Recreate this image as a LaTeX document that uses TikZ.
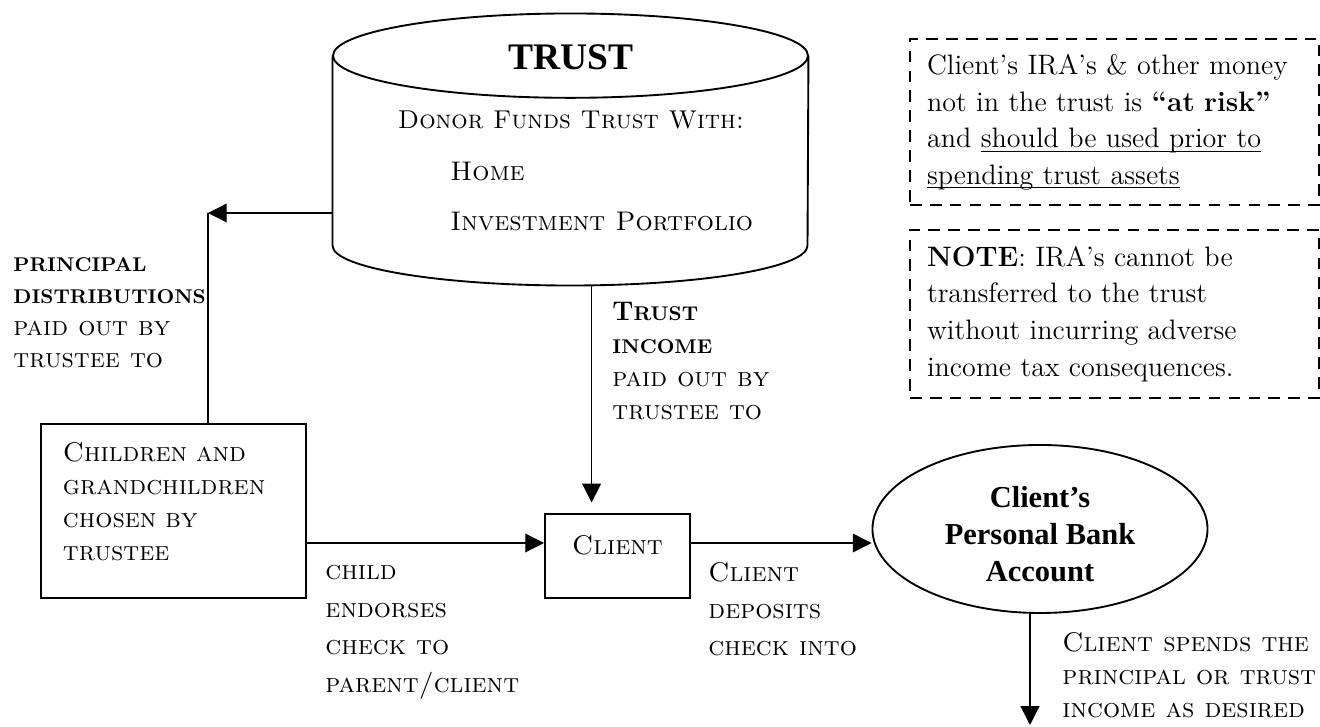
\documentclass[tikz,border=0pt]{standalone}
\usepackage{fontspec}
\usetikzlibrary{arrows.meta}
\usetikzlibrary{shapes.geometric}
\newfontfamily\timesfont{Liberation Serif}[Ligatures=TeX]
\newcommand\bcaps[1]{{\bfseries\fontsize{8.5}{10}\selectfont #1}}
\newcommand\uln[1]{\underline{\smash{#1}}}

\tikzset{
  box/.style={draw, line width=0.8pt},
  lbl/.style={anchor=north west, inner sep=0pt, align=left},
  caps/.style={font=\fontsize{11.5}{#1}\selectfont\scshape},
  flow/.style={line width=0.5pt, -{Triangle[length=8pt,width=8pt]}},
  notebox/.style={draw, line width=0.8pt, dash pattern=on 5pt off 3.5pt, anchor=north west,
    align=left, text width=160pt, inner xsep=7.3pt, minimum height=70.8pt,
    font=\fontsize{12}{15.6}\selectfont}
}

\begin{document}
\begin{tikzpicture}[x=0.015cm, y=-0.015cm]
\useasboundingbox (0,0) rectangle (1320,727);

% the trust
\node[inner sep=0pt, minimum width=202.7pt, minimum height=115.7pt] (trust) at (570.5,149.5) {};
\draw[line width=0.8pt] ([yshift=-18pt]trust.north) ellipse [x radius=101.35pt, y radius=18pt];
\draw[line width=0.8pt] ([yshift=-18pt]trust.north west) -- ([yshift=17pt]trust.south west)
  arc[start angle=180, end angle=360, x radius=101.35pt, y radius=17pt] -- ([yshift=-18pt]trust.north east);
\node[font=\timesfont\bfseries\fontsize{16}{18}\selectfont, inner sep=0pt] (title) at (571,57) {TRUST};
\node[font=\fontsize{11}{14}\selectfont\scshape, anchor=north, inner sep=0pt] (donor) at (571,110) {Donor Funds Trust With:};
\node[lbl, caps=21.3pt] (assets) at (450,162) {Home\\Investment Portfolio};

% notes on the right
\node[notebox] (risk) at (909,38) {Client's IRA's \& other money\\ not in the trust is \textbf{``at risk''}\\ and \uln{should be used prior to}\\ \uln{spending trust assets}};
\node[notebox, minimum height=71.7pt] (note) at (909,229) {\textbf{NOTE}: IRA's cannot be\\ transferred to the trust\\ without incurring adverse\\ income tax consequences.};

% boxes
\node[box, lbl, caps=14.1pt, text width=94.3pt, inner xsep=9.4pt, inner ysep=8pt, minimum height=74.3pt] (kids) at (40,423) {Children and\\ grandchildren\\ chosen by\\ trustee\rule[-7.8pt]{0pt}{7.8pt}};
\node[box, lbl, caps=14pt, minimum width=61.9pt, inner ysep=9.4pt, text depth=8.9pt] (client) at (544,513) {Client};
\node[ellipse, draw, line width=0.8pt, minimum width=143pt, minimum height=71.7pt, inner sep=0pt, align=center,
  font=\timesfont\bfseries\fontsize{13}{15.8}\selectfont] (bank) at (1040,529) {\rule{0pt}{13pt}Client's\\ Personal Bank\\ Account};

% labels
\node[lbl, caps=13.7pt] (pdlbl) at (13,257) {\bcaps{PRINCIPAL}\\ \bcaps{DISTRIBUTIONS}\\ paid out by\\ trustee to};
\node[lbl, caps=14.1pt] (inclbl) at (612,302) {{\bfseries T\bcaps{RUST}}\\ \bcaps{INCOME}\\ paid out by\\ trustee to};
\node[lbl, caps=16pt] (endlbl) at (325,565) {child\\ endorses\\ check to\\ parent/client};
\node[lbl, caps=15.8pt] (deplbl) at (708,562) {Client\\ deposits\\ check into};
\node[lbl, caps=14.1pt] (spendlbl) at (1062,632) {Client spends the\\ principal or trust\\ income as desired};

% connectors
\coordinate (corner) at (208,213);
\draw[flow] (trust.west |- corner) -- (corner);
\draw[line width=0.5pt] (kids.north -| corner) -- (corner);
\draw[flow, shorten >=4.5pt] ([xshift=9pt]trust.south) -- ([xshift=9pt]trust.south |- client.north);
\coordinate (cw) at ([yshift=5.5pt]client.west);
\draw[flow] (kids.east |- cw) -- (cw);
\draw[flow] (client.east |- cw) -- (bank.west |- cw);
\coordinate (spend) at (1030,725);
\draw[flow] (bank.south -| spend) -- (spend);
\end{tikzpicture}
\end{document}
